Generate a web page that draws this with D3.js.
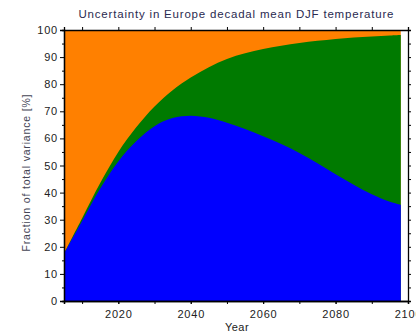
<!DOCTYPE html>
<html>
<head>
<meta charset="utf-8">
<script src="https://cdn.jsdelivr.net/npm/d3@7"></script>
<style>
  body { margin: 0; background: #fff; }
  svg { display: block; font-family: "Liberation Sans", Arial, sans-serif; }
</style>
</head>
<body>
<svg id="chart" width="416" height="333"></svg>
<script>
// decadal mean years
var years = [2005, 2010, 2015, 2020, 2025, 2030, 2035, 2040, 2045, 2050,
             2055, 2060, 2065, 2070, 2075, 2080, 2085, 2090, 2095, 2098];
// internal variability (blue)
var internal = [17.5, 29.5, 41.5, 51.5, 59.0, 64.5, 67.5, 68.4, 67.6, 65.8,
                63.5, 60.8, 57.9, 54.6, 50.8, 46.8, 42.9, 39.4, 36.6, 35.5];
// scenario (green)
var scenario = [0.0, 1.0, 2.0, 3.5, 5.2, 7.3, 10.3, 14.1, 18.7, 23.5,
                27.9, 32.2, 36.3, 40.6, 45.2, 49.9, 54.3, 58.2, 61.4, 62.7];
// model uncertainty (orange)
var model = [82.5, 69.5, 56.5, 45.0, 35.8, 28.2, 22.2, 17.5, 13.7, 10.7,
             8.6, 7.0, 5.8, 4.8, 4.0, 3.3, 2.8, 2.4, 2.0, 1.8];

var xTicks = [2020, 2040, 2060, 2080, 2100];
var yTicks = [0, 10, 20, 30, 40, 50, 60, 70, 80, 90, 100];

var colors = { internal: '#0000ff', scenario: '#007a00', model: '#ff8000' };

(function () {
  var svg = d3.select('#chart'),
      left = 64, right = 408, top = 30, bottom = 301;

  var x = d3.scaleLinear().domain([2005, 2100]).range([left, right]),
      y = d3.scaleLinear().domain([0, 100]).range([bottom, top]);

  var rows = years.map(function (yr, i) {
    return { year: yr, internal: internal[i], scenario: scenario[i], model: model[i] };
  });

  var series = d3.stack().keys(['internal', 'scenario', 'model'])(rows);

  var curve = d3.curveCatmullRom.alpha(0.5);
  var area = d3.area()
    .curve(curve)
    .x(function (d) { return x(d.data.year); })
    .y0(function (d) { return y(d[0]); })
    .y1(function (d) { return y(d[1]); });

  // draw top layer first, each lower one over it
  svg.append('g').selectAll('path')
    .data(series.slice().reverse())
    .enter().append('path')
      .attr('fill', function (d) { return colors[d.key]; })
      .attr('d', function (d) {
        if (d.key === 'model') {
          // top layer fills up to 100 behind the others
          return d3.area().curve(curve)
            .x(function (p) { return x(p.data.year); })
            .y0(y(0)).y1(y(100))(d);
        }
        return d3.area().curve(curve)
          .x(function (p) { return x(p.data.year); })
          .y0(y(0))
          .y1(function (p) { return y(p[1]); })(d);
      });

  // axes
  var axB = d3.axisBottom(x).tickValues(xTicks).tickSize(3).tickPadding(6).tickFormat(d3.format('d')),
      axBm = d3.axisBottom(x).tickValues(d3.range(2010, 2101, 10)).tickSize(3).tickFormat(''),
      axT = d3.axisTop(x).tickValues(d3.range(2010, 2101, 10)).tickSize(3).tickFormat(''),
      axL = d3.axisLeft(y).tickValues(yTicks).tickSize(4).tickPadding(2),
      axLm = d3.axisLeft(y).tickValues(d3.range(5, 100, 10)).tickSize(2).tickFormat(''),
      axR = d3.axisRight(y).tickValues(d3.range(0, 101, 5)).tickSize(3).tickFormat('');

  svg.append('g').attr('transform', 'translate(0,' + bottom + ')').call(axBm);
  svg.append('g').attr('transform', 'translate(0,' + bottom + ')').call(axB);
  svg.append('g').attr('transform', 'translate(0,' + top + ')').call(axT);
  svg.append('g').attr('transform', 'translate(' + left + ',0)').call(axL);
  svg.append('g').attr('transform', 'translate(' + left + ',0)').call(axLm);
  svg.append('g').attr('transform', 'translate(' + right + ',0)').call(axR);

  svg.selectAll('.domain').attr('stroke', '#000').attr('stroke-width', 1.3);
  svg.selectAll('.tick line').attr('stroke', '#000');
  svg.selectAll('.tick text')
    .attr('fill', '#222')
    .style('font-size', '11px')
    .style('letter-spacing', '0.8px')
    .style('font-family', '"Liberation Sans", Arial, sans-serif');

  svg.append('text')
    .attr('x', (left + right) / 2).attr('y', 18)
    .attr('text-anchor', 'middle')
    .attr('fill', '#2a2a50')
    .attr('textLength', 315)
    .attr('lengthAdjust', 'spacing')
    .style('font-size', '11.5px')
    .text('Uncertainty in Europe decadal mean DJF temperature');

  svg.append('text')
    .attr('x', 237).attr('y', 331)
    .attr('text-anchor', 'middle')
    .attr('fill', '#222')
    .style('font-size', '11px')
    .style('letter-spacing', '0.5px')
    .text('Year');

  svg.append('text')
    .attr('transform', 'translate(30,173) rotate(-90)')
    .attr('text-anchor', 'middle')
    .attr('fill', '#445')
    .attr('textLength', 157)
    .attr('lengthAdjust', 'spacing')
    .style('font-size', '10.5px')
    .text('Fraction of total variance  [%]');
})();
</script>
</body>
</html>
